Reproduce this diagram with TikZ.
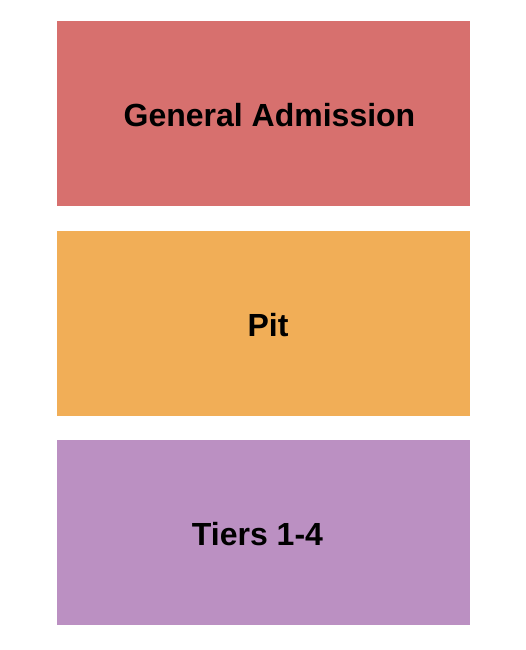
\documentclass[tikz,border=0pt]{standalone}
\usepackage{fontspec}
\setmainfont{Liberation Sans}
\definecolor{gacol}{HTML}{D7706E}
\definecolor{pitcol}{HTML}{F1AE57}
\definecolor{tiercol}{HTML}{BB90C2}
\tikzset{
  zone/.style={rectangle, draw=none, inner sep=0pt, minimum width=413pt, minimum height=185pt},
  zonelabel/.style={anchor=base, inner sep=0pt, font=\fontsize{32}{36}\selectfont\bfseries, text=black}
}
\begin{document}
\begin{tikzpicture}[x=1pt,y=-1pt]
\useasboundingbox (0,0) rectangle (525,650);
\node[zone, fill=gacol] (ga) at (263.5,113.5) {};
\node[zone, fill=pitcol] (pit) at (263.5,323) {};
\node[zone, fill=tiercol] (tiers) at (263.5,532.5) {};
\node[zonelabel] (galbl) at (269.5,126) {General Admission};
\node[zonelabel] (pitlbl) at (268,336) {Pit};
\node[zonelabel] (tierslbl) at (257.5,545) {Tiers 1-4};
\end{tikzpicture}
\end{document}
